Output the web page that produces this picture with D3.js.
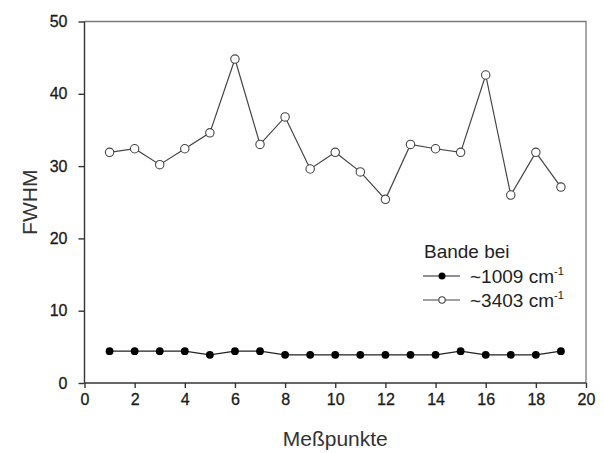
<!DOCTYPE html>
<html>
<head>
<meta charset="utf-8">
<script src="https://cdn.jsdelivr.net/npm/d3@7"></script>
<style>
  html, body { margin: 0; padding: 0; background: #fff; }
  svg { display: block; font-family: Arial, "Liberation Sans", sans-serif; }
</style>
</head>
<body>
<svg id="chart" width="604" height="453"></svg>
<script>
// ---- data ----
const points = [1,2,3,4,5,6,7,8,9,10,11,12,13,14,15,16,17,18,19];
const band1009 = [4.4,4.4,4.4,4.4,3.9,4.4,4.4,3.9,3.9,3.9,3.9,3.9,3.9,3.9,4.4,3.9,3.9,3.9,4.4];
const band3403 = [31.9,32.4,30.2,32.4,34.6,44.8,33.0,36.8,29.6,31.9,29.2,25.4,33.0,32.4,31.9,42.6,26.0,31.9,27.1];
const xTicks = [0,2,4,6,8,10,12,14,16,18,20];
const yTicks = [0,10,20,30,40,50];
const seriesNames = ["~1009 cm", "~3403 cm"];
const legendTitle = "Bande bei";
const xTitle = "Meßpunkte";
const yTitle = "FWHM";

// ---- layout ----
const svg = d3.select("#chart");
const L = 84.5, R = 586, T = 21.5, B = 383;
const x = d3.scaleLinear().domain([0, 20]).range([L, R]);
const y = d3.scaleLinear().domain([0, 50]).range([B, T]);

// frame (top/right)
svg.append("path")
  .attr("d", `M${L},${T}H${R}V${B}`)
  .attr("fill", "none").attr("stroke", "#7a7a7a").attr("stroke-width", 1.3);

// axes
const xAxis = svg.append("g").attr("transform", `translate(0,${B})`)
  .call(d3.axisBottom(x).tickValues(xTicks).tickSize(5).tickPadding(6).tickFormat(d3.format("d")));
const yAxis = svg.append("g").attr("transform", `translate(${L},0)`)
  .call(d3.axisLeft(y).tickValues(yTicks).tickSize(6).tickPadding(11).tickFormat(d3.format("d")));
[xAxis, yAxis].forEach(g => {
  g.select(".domain").attr("stroke", "#333").attr("stroke-width", 1.4);
  g.selectAll(".tick line").attr("stroke", "#333").attr("stroke-width", 1.4);
  g.selectAll(".tick text").attr("fill", "#1a1a1a").attr("font-size", 16)
    .attr("stroke", "#1a1a1a").attr("stroke-width", 0.3)
    .attr("font-family", "Arial, 'Liberation Sans', sans-serif");
});
xAxis.select(".domain").attr("d", `M${L},0H${R}`);
yAxis.select(".domain").attr("d", `M0,${B}V${T}`);

// axis titles
svg.append("text").attr("x", (L + R) / 2).attr("y", 446)
  .attr("text-anchor", "middle").attr("font-size", 21).attr("fill", "#333").text(xTitle);
svg.append("text").attr("transform", `translate(37,${(T + B) / 2}) rotate(-90)`)
  .attr("text-anchor", "middle").attr("font-size", 21).attr("fill", "#333").text(yTitle);

// series
const line = d3.line().x((d, i) => x(points[i])).y(d => y(d));
svg.append("path").datum(band3403).attr("d", line)
  .attr("fill", "none").attr("stroke", "#444").attr("stroke-width", 1.2);
svg.append("path").datum(band1009).attr("d", line)
  .attr("fill", "none").attr("stroke", "#222").attr("stroke-width", 1.3);

svg.append("g").selectAll("circle").data(band3403).join("circle")
  .attr("cx", (d, i) => x(points[i])).attr("cy", d => y(d)).attr("r", 4.2)
  .attr("fill", "#fff").attr("stroke", "#444").attr("stroke-width", 1.1);
svg.append("g").selectAll("circle").data(band1009).join("circle")
  .attr("cx", (d, i) => x(points[i])).attr("cy", d => y(d)).attr("r", 3.9)
  .attr("fill", "#000");

// legend
const lg = svg.append("g");
lg.append("text").attr("x", 424).attr("y", 258).attr("font-size", 19).attr("fill", "#222").text(legendTitle);
const rows = [{ y: 276, filled: true }, { y: 300, filled: false }];
rows.forEach((r, i) => {
  lg.append("line").attr("x1", 423).attr("x2", 460).attr("y1", r.y).attr("y2", r.y)
    .attr("stroke", i === 0 ? "#222" : "#444").attr("stroke-width", 1.2);
  lg.append("circle").attr("cx", 442).attr("cy", r.y).attr("r", r.filled ? 3.5 : 3.2)
    .attr("fill", r.filled ? "#000" : "#fff").attr("stroke", r.filled ? "none" : "#444").attr("stroke-width", 1.1);
  const t = lg.append("text").attr("x", 470).attr("y", r.y + 7).attr("font-size", 19).attr("fill", "#222");
  t.append("tspan").text(seriesNames[i]);
  t.append("tspan").attr("dy", -8).attr("font-size", 11).text("-1");
});
</script>
</body>
</html>
